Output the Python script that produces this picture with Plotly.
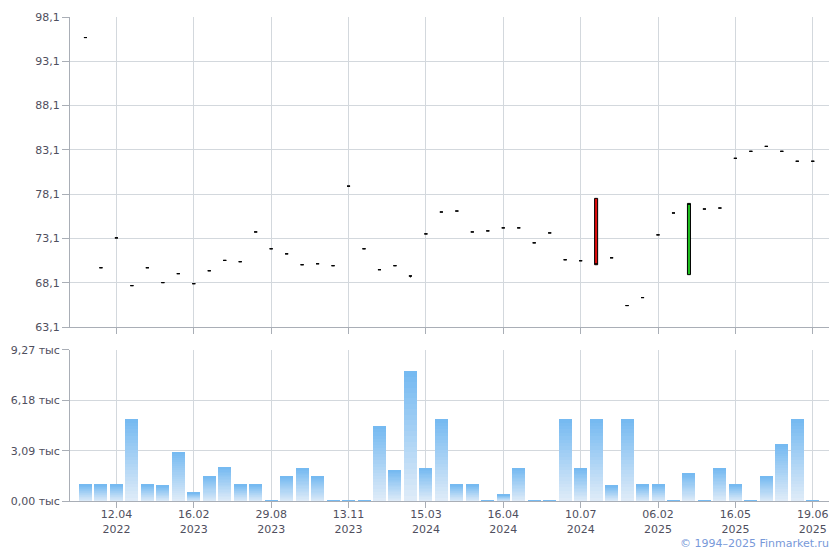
import plotly.graph_objects as go

# ---------------- data ----------------
opens = [95.78, 69.8, 73.17, 67.78, 69.8, 68.12, 69.13, 68.0, 69.46, 70.63,
         70.48, 73.84, 71.94, 71.37, 70.14, 70.25, 70.03, 79.01, 71.94, 69.58,
         70.03, 68.87, 73.62, 76.09, 76.2, 73.84, 73.96, 74.3, 74.3, 72.61,
         73.73, 70.7, 70.59, 77.63, 70.92, 65.53, 66.43, 73.51, 75.98, 69.02,
         76.43, 76.54, 82.15, 82.94, 83.5, 82.94, 81.82, 81.82]
closes = [95.78, 69.8, 73.17, 67.78, 69.8, 68.12, 69.13, 68.0, 69.46, 70.63,
          70.48, 73.84, 71.94, 71.37, 70.14, 70.25, 70.03, 79.01, 71.94, 69.58,
          70.03, 68.87, 73.62, 76.09, 76.2, 73.84, 73.96, 74.3, 74.3, 72.61,
          73.73, 70.7, 70.59, 70.14, 70.92, 65.53, 66.43, 73.51, 75.98, 77.06,
          76.43, 76.54, 82.15, 82.94, 83.5, 82.94, 81.82, 81.82]
highs = [95.78, 69.8, 73.17, 67.78, 69.8, 68.12, 69.13, 68.0, 69.46, 70.63,
         70.48, 73.84, 71.94, 71.37, 70.14, 70.25, 70.03, 79.01, 71.94, 69.58,
         70.03, 68.87, 73.62, 76.09, 76.2, 73.84, 73.96, 74.3, 74.3, 72.61,
         73.73, 70.7, 70.59, 77.63, 70.92, 65.53, 66.43, 73.51, 75.98, 77.06,
         76.43, 76.54, 82.15, 82.94, 83.5, 82.94, 81.82, 81.82]
lows = [95.78, 69.8, 73.17, 67.78, 69.8, 68.12, 69.13, 68.0, 69.46, 70.63,
        70.48, 73.84, 71.94, 71.37, 70.14, 70.25, 70.03, 79.01, 71.94, 69.58,
        70.03, 68.7, 73.62, 76.09, 76.2, 73.84, 73.96, 74.3, 74.3, 72.61,
        73.73, 70.7, 70.59, 70.14, 70.92, 65.53, 66.43, 73.51, 75.98, 69.02,
        76.43, 76.54, 82.15, 82.94, 83.5, 82.94, 81.82, 81.82]
# volume, thousands
volumes = [1.0, 1.0, 1.0, 5.02, 1.0, 0.93, 3.0, 0.5, 1.48, 2.09,
           1.0, 1.0, 0.06, 1.48, 2.03, 1.48, 0.06, 0.06, 0.06, 4.59,
           1.91, 7.95, 2.03, 5.02, 1.0, 1.0, 0.06, 0.38, 2.03, 0.06,
           0.06, 5.02, 2.03, 5.02, 0.93, 5.02, 1.0, 1.0, 0.06, 1.67,
           0.06, 2.03, 1.0, 0.06, 1.48, 3.49, 5.02, 0.06]
x_idx = list(range(len(opens)))

tick_pos = [2, 7, 12, 17, 22, 27, 32, 37, 42, 47]
tick_labels = ["12.04<br>2022", "16.02<br>2023", "29.08<br>2023", "13.11<br>2023",
               "15.03<br>2024", "16.04<br>2024", "10.07<br>2024", "06.02<br>2025",
               "16.05<br>2025", "19.06<br>2025"]
price_ticks = [63.1, 68.1, 73.1, 78.1, 83.1, 88.1, 93.1, 98.1]
price_tick_text = ["63,1", "68,1", "73,1", "78,1", "83,1", "88,1", "93,1", "98,1"]
vol_ticks = [0, 3.09, 6.18, 9.27]
vol_tick_text = ["0,00 тыс", "3,09 тыс", "6,18 тыс", "9,27 тыс"]

# ---------------- styling ----------------
GRID = "#d3d8dd"
AXIS = "#a9aeb6"
TXT = "#4f4f5e"
FONT = "DejaVu Sans"

fig = go.Figure()

# volume bars with vertical gradient (stacked segments)
N = 24
c_bot = (224, 236, 248)
c_top = (116, 185, 241)
for k in range(N):
    t = (k + 0.5) / N
    col = tuple(round(c_bot[j] + (c_top[j] - c_bot[j]) * t) for j in range(3))
    fig.add_trace(go.Bar(
        x=x_idx, y=[v / N for v in volumes],
        marker=dict(color="rgb(%d,%d,%d)" % col, line=dict(width=0)),
        width=0.84, xaxis="x", yaxis="y", showlegend=False, hoverinfo="skip"))

fig.add_trace(go.Candlestick(
    x=x_idx, open=opens, high=highs, low=lows, close=closes,
    xaxis="x2", yaxis="y2", showlegend=False,
    increasing=dict(line=dict(color="black", width=1), fillcolor="#1fbf1f"),
    decreasing=dict(line=dict(color="black", width=1), fillcolor="#e00d0d"),
    whiskerwidth=0))

xcommon = dict(range=[-1, 48.05], showgrid=True, gridcolor=GRID, gridwidth=1,
               tickvals=tick_pos, zeroline=False, showline=True, linecolor=AXIS,
               linewidth=1, ticks="outside", ticklen=6, tickcolor=AXIS,
               tickfont=dict(family=FONT, size=11, color=TXT))
ycommon = dict(showgrid=True, gridcolor=GRID, gridwidth=1, zeroline=False,
               showline=True, linecolor=AXIS, linewidth=1, ticks="outside",
               ticklen=7, tickcolor=AXIS, tickfont=dict(family=FONT, size=11, color=TXT))

fig.update_layout(
    width=840, height=550,
    margin=dict(l=70, r=11, t=14, b=49),
    paper_bgcolor="white", plot_bgcolor="white",
    barmode="stack", bargap=0.16, boxgap=0.72,
    font=dict(family=FONT, size=11, color=TXT),
    xaxis=dict(xcommon, anchor="y", ticktext=tick_labels, ticklabelstandoff=-3),
    xaxis2=dict(xcommon, anchor="y2", matches="x", showticklabels=False,
                rangeslider=dict(visible=False)),
    yaxis=dict(ycommon, domain=[0, 0.3121], range=[0, 9.27],
               tickvals=vol_ticks, ticktext=vol_tick_text),
    yaxis2=dict(ycommon, domain=[0.3593, 1.0], range=[63.1, 98.1],
                tickvals=price_ticks, ticktext=price_tick_text),
    annotations=[dict(text="© 1994–2025 Finmarket.ru", xref="paper", yref="paper",
                      x=1.002, y=-0.088, xanchor="right", yanchor="middle",
                      showarrow=False, font=dict(family=FONT, size=11, color="#7899d9"))],
)

fig.write_html("out.html", config={"displayModeBar": False},
               post_script="document.body.style.margin='0';document.body.style.overflow='hidden';")
